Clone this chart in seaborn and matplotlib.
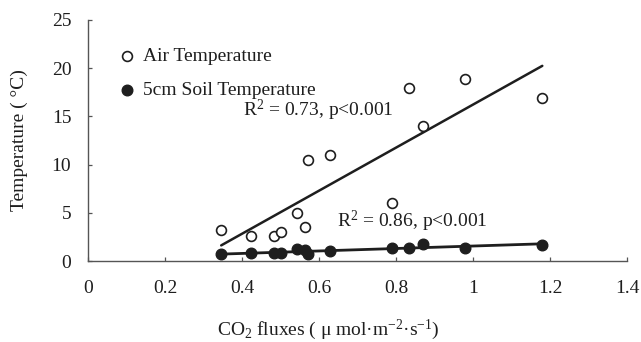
import matplotlib
matplotlib.use("Agg")
import matplotlib.pyplot as plt
import seaborn as sns
import pandas as pd

# values
co2_flux = [0.346, 0.423, 0.484, 0.500, 0.544, 0.564, 0.571, 0.628, 0.789, 0.834, 0.871, 0.978, 1.180]
air_temp = [3.25, 2.57, 2.57, 3.00, 4.97, 3.50, 10.50, 10.96, 6.06, 17.98, 14.00, 18.90, 16.90]
soil_temp = [0.75, 0.80, 0.80, 0.80, 1.20, 1.10, 0.70, 1.00, 1.35, 1.40, 1.80, 1.35, 1.65]

x_ticks = [0, 0.2, 0.4, 0.6, 0.8, 1.0, 1.2, 1.4]
x_tick_labels = ["0", "0.2", "0.4", "0.6", "0.8", "1", "1.2", "1.4"]
y_ticks = [0, 5, 10, 15, 20, 25]

df = pd.DataFrame({"flux": co2_flux, "air": air_temp, "soil": soil_temp})

sns.set_theme(style="white")
plt.rcParams["font.family"] = ["Liberation Serif", "DejaVu Serif"]
plt.rcParams["mathtext.fontset"] = "custom"
plt.rcParams["mathtext.rm"] = "Liberation Serif"
plt.rcParams["mathtext.it"] = "Liberation Serif:italic"

ink = "#1e1e1e"
fs = 14

fig = plt.figure(figsize=(6.41, 3.42), dpi=100)
ax = fig.add_axes([88 / 641, 1 - 261 / 342, 539 / 641, 241 / 342])

sns.regplot(x="flux", y="air", data=df, ax=ax, ci=None, truncate=True,
            label="Air Temperature",
            scatter_kws={"s": 50, "facecolors": "white", "edgecolors": ink,
                         "linewidths": 1.2, "alpha": 1, "zorder": 3},
            line_kws={"color": ink, "lw": 1.8, "zorder": 2})
sns.regplot(x="flux", y="soil", data=df, ax=ax, ci=None, truncate=True,
            label="5cm Soil Temperature",
            scatter_kws={"s": 58, "color": ink, "edgecolors": ink,
                         "linewidths": 1.0, "alpha": 1, "zorder": 3},
            line_kws={"color": ink, "lw": 2.0, "zorder": 2})

ax.set_xlim(0, 1.4)
ax.set_ylim(0, 25)
ax.set_xticks(x_ticks)
ax.set_xticklabels(x_tick_labels)
ax.set_yticks(y_ticks)

for side in ["top", "right"]:
    ax.spines[side].set_visible(False)
for side in ["left", "bottom"]:
    ax.spines[side].set_color("#555555")
    ax.spines[side].set_linewidth(1.0)

ax.tick_params(axis="both", direction="in", length=3, width=0.9,
               colors="#555555", labelcolor=ink, labelsize=fs)
ax.tick_params(axis="x", pad=14, bottom=True)
ax.tick_params(axis="y", pad=12, left=True)

ax.set_xlabel("CO$_2$ fluxes ( μ mol·m$^{-2}$·s$^{-1}$)", fontsize=fs, color=ink)
ax.xaxis.set_label_coords((328 - 88) / 539, (261 - 318) / 241)
ax.set_ylabel("Temperature ( °C)", fontsize=fs, color=ink)
ax.yaxis.set_label_coords((28 - 88) / 539, 0.5)

ax.text(0.403, 15.6, "R$^2$ = 0.73, p<0.001", fontsize=fs, color=ink,
        va="center", ha="left")
ax.text(0.646, 4.1, "R$^2$ = 0.86, p<0.001", fontsize=fs, color=ink,
        va="center", ha="left")

leg = ax.legend(loc="upper left", bbox_to_anchor=(0.055, 0.885), frameon=False,
                fontsize=fs, handlelength=1.0, handletextpad=0.3,
                labelspacing=0.85, borderpad=0, borderaxespad=0, scatterpoints=1)
for t in leg.get_texts():
    t.set_color(ink)

fig.savefig("out.png", dpi=100)
